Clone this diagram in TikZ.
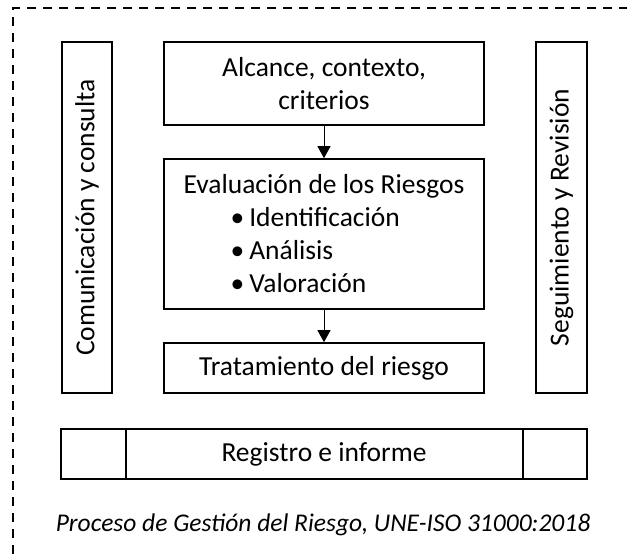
\documentclass[tikz,border=0pt]{standalone}
\usepackage{fontspec}
\setmainfont{Carlito}
\usetikzlibrary{positioning,arrows.meta}

\begin{document}
\begin{tikzpicture}[x=1pt,y=-1pt,
    box/.style={draw,line width=1.6pt,inner sep=0pt,font=\fontsize{27.5}{33}\selectfont},
    flow/.style={-{Triangle[length=12pt,width=13pt]},line width=0.9pt}]
    \useasboundingbox (0,0) rectangle (627,554);
    \draw[line width=1.6pt,dash pattern=on 9pt off 7pt] (13,554) -- (13,8) -- (627,8);

    % process column
    \node[box,minimum width=320pt,minimum height=83pt,align=center] (alcance) at (324,83.5) {Alcance, contexto,\\criterios};
    \node[box,minimum width=320pt,minimum height=150pt,align=left] (evaluacion) at (324,234)
        {Evaluación de los Riesgos\\
         \hspace*{47pt}•\hspace{5pt}Identificación\\
         \hspace*{47pt}•\hspace{5pt}Análisis\\
         \hspace*{47pt}•\hspace{5pt}Valoración};
    \node[box,minimum width=320pt,minimum height=50pt] (tratamiento) at (324,368) {Tratamiento del riesgo};

    \draw[flow] (alcance) -- (evaluacion);
    \draw[flow] (evaluacion) -- (tratamiento);

    % side bars
    \node[box,rotate=90,minimum width=351pt,minimum height=50pt] (comunicacion) at (87,217.5) {Comunicación y consulta};
    \node[box,rotate=90,minimum width=351pt,minimum height=51pt] (seguimiento) at (561.5,217.5) {Seguimiento y Revisión};

    % bottom bar
    \node[box,minimum width=526pt,minimum height=50pt] (registro) at (324,454) {Registro e informe};
    \draw[line width=1.6pt] ([xshift=66pt]registro.north west) -- ([xshift=66pt]registro.south west);
    \draw[line width=1.6pt] ([xshift=-65pt]registro.north east) -- ([xshift=-65pt]registro.south east);

    \node[font=\fontsize{25.5}{30}\selectfont\itshape] (pie) at (323,525) {Proceso de Gestión del Riesgo, UNE-ISO 31000:2018};
\end{tikzpicture}
\end{document}
